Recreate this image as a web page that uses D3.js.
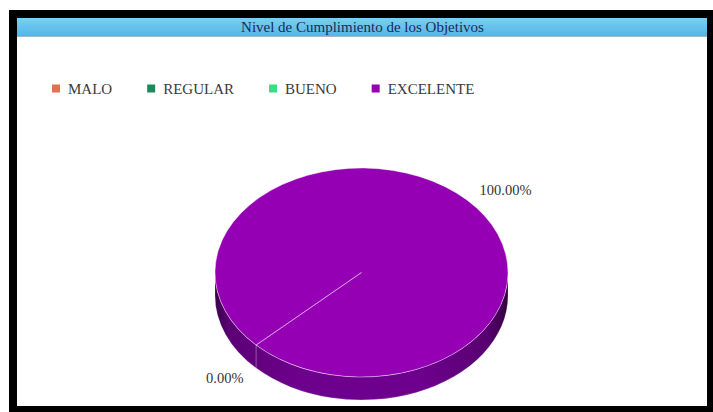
<!DOCTYPE html>
<html>
<head>
<meta charset="utf-8">
<script src="https://cdn.jsdelivr.net/npm/d3@7/dist/d3.min.js"></script>
<style>
  html, body { margin: 0; padding: 0; background: #fff; }
  svg { display: block; }
  text { font-family: "Liberation Serif", "Times New Roman", serif; }
</style>
</head>
<body>
<svg id="chart" width="713" height="412"></svg>
<script>
// Chart data
const title = "Nivel de Cumplimiento de los Objetivos";
const categories = ["MALO", "REGULAR", "BUENO", "EXCELENTE"];
const values = [0, 0, 0, 100];
const colors = ["#e0734f", "#1b8a5c", "#3ddc84", "#9600b4"];
const startDeg = 226;

const W = 713, H = 412;
const svg = d3.select("#chart");
const defs = svg.append("defs");

// Frame and panel
svg.append("rect").attr("x", 9).attr("y", 10).attr("width", W - 9).attr("height", H - 10).attr("fill", "#000");
svg.append("rect").attr("x", 17).attr("y", 18).attr("width", 690).attr("height", 388).attr("fill", "#fff");

// Title bar
const tg = defs.append("linearGradient").attr("id", "titleGrad").attr("x1", 0).attr("y1", 0).attr("x2", 0).attr("y2", 1);
tg.append("stop").attr("offset", "0%").attr("stop-color", "#7acff4");
tg.append("stop").attr("offset", "100%").attr("stop-color", "#56b5e3");
svg.append("rect").attr("x", 17).attr("y", 18).attr("width", 690).attr("height", 18).attr("fill", "url(#titleGrad)");
svg.append("line").attr("x1", 17).attr("x2", 707).attr("y1", 36.5).attr("y2", 36.5).attr("stroke", "#9fb8c4").attr("stroke-width", 1);
svg.append("text")
  .attr("x", 362.5).attr("y", 31.5)
  .attr("text-anchor", "middle")
  .attr("font-size", "15px")
  .attr("fill", "#1a2a58")
  .text(title);

// Legend
const legend = svg.append("g").attr("class", "legend");
let lx = 52;
categories.forEach((c, i) => {
  const item = legend.append("g").attr("transform", `translate(${lx},0)`);
  item.append("rect").attr("x", 0).attr("y", 84.5).attr("width", 8).attr("height", 8).attr("fill", colors[i]);
  const t = item.append("text")
    .attr("x", 16).attr("y", 93.5)
    .attr("font-size", "15px")
    .attr("fill", "#3a3a3a")
    .text(c);
  lx += 16 + t.node().getComputedTextLength() + 35;
});

// 3D pie
const cx = 361.5, cy = 272.5, rx = 146.5, ry = 104.5, depth = 23;
const xS = d3.scaleLinear().domain([-1, 1]).range([cx - rx, cx + rx]);
const yS = d3.scaleLinear().domain([-1, 1]).range([cy - ry, cy + ry]);
const pt = (a, dz = 0) => [xS(Math.sin(a)), yS(-Math.cos(a)) + dz];

const start = startDeg * Math.PI / 180;
const pie = d3.pie().sort(null).value(d => d).startAngle(start).endAngle(start + 2 * Math.PI);
const arcs = pie(values);

// elliptical arc string, split into small pieces so large sweeps stay correct
function arcTo(a0, a1, dz) {
  const n = Math.max(1, Math.ceil(Math.abs(a1 - a0) / (Math.PI / 2)));
  let s = "";
  for (let k = 1; k <= n; k++) {
    const a = a0 + (a1 - a0) * k / n;
    const p = pt(a, dz);
    s += `A${rx},${ry} 0 0 ${a1 > a0 ? 1 : 0} ${p[0]},${p[1]}`;
  }
  return s;
}

// Side gradient: darker toward the rim edges
const sg = defs.append("linearGradient").attr("id", "sideGrad")
  .attr("gradientUnits", "userSpaceOnUse")
  .attr("x1", cx - rx).attr("x2", cx + rx).attr("y1", 0).attr("y2", 0);
[[0, "#3a0049"], [0.05, "#5c0075"], [0.3, "#6e008e"], [0.7, "#6e008e"], [0.93, "#580070"], [1, "#34003f"]]
  .forEach(([o, c]) => sg.append("stop").attr("offset", o).attr("stop-color", c));

// visible (front) part of the side for each slice
const sides = svg.append("g");
const TWO = 2 * Math.PI;
arcs.forEach((d, i) => {
  if (d.endAngle - d.startAngle <= 0) return;
  // front half spans angles [PI/2, 3PI/2] modulo 2PI
  for (let base = -TWO; base <= 2 * TWO; base += TWO) {
    const lo = Math.max(d.startAngle, base + Math.PI / 2);
    const hi = Math.min(d.endAngle, base + 3 * Math.PI / 2);
    if (hi - lo <= 1e-9) continue;
    const p0 = pt(lo), p1b = pt(hi, depth);
    const path = `M${p0[0]},${p0[1]}` + arcTo(lo, hi, 0) +
      `L${p1b[0]},${p1b[1]}` + arcTo(hi, lo, depth) + "Z";
    sides.append("path").attr("d", path)
      .attr("fill", "url(#sideGrad)")
      .attr("stroke", "rgba(255,255,255,0.18)").attr("stroke-width", 1);
  }
});

// top faces
const tops = svg.append("g");
arcs.forEach((d, i) => {
  const p0 = pt(d.startAngle);
  const path = `M${cx},${cy}L${p0[0]},${p0[1]}` +
    (d.endAngle > d.startAngle ? arcTo(d.startAngle, d.endAngle, 0) : "") + "Z";
  tops.append("path").attr("d", path)
    .attr("fill", colors[i])
    .attr("stroke", "rgba(255,255,255,0.4)").attr("stroke-width", 1)
    .attr("stroke-linejoin", "round");
});

// data labels
const fmt = d3.format(".2f");
const total = d3.sum(values);
const seen = new Set();
const labels = svg.append("g");
arcs.forEach(d => {
  const a = (d.startAngle + d.endAngle) / 2;
  const sx = Math.sin(a), sy = -Math.cos(a);
  const x = xS(1.12 * sx);
  const y = yS(1.14 * sy) + (sy > 0 ? depth : 0);
  const key = Math.round(x) + "," + Math.round(y);
  if (seen.has(key)) return;
  seen.add(key);
  labels.append("text")
    .attr("x", x).attr("y", y).attr("dy", "0.35em")
    .attr("text-anchor", sx >= 0 ? "start" : "end")
    .attr("font-size", "14.5px")
    .attr("fill", "#333")
    .text(fmt(d.value / total * 100) + "%");
});
</script>
</body>
</html>
